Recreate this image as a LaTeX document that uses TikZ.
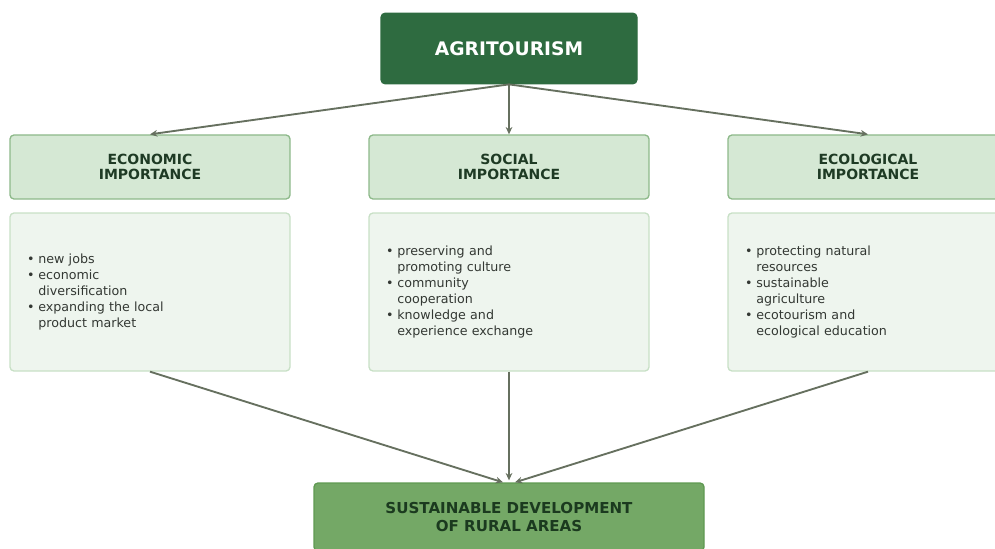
\documentclass[tikz,border=0pt]{standalone}
\usepackage{fontspec}
\setmainfont{DejaVu Sans}
\usetikzlibrary{arrows.meta}

\definecolor{topgreen}{HTML}{2E6B40}
\definecolor{headfill}{HTML}{D5E8D4}
\definecolor{headline}{HTML}{8DB98A}
\definecolor{headtext}{HTML}{1E3A24}
\definecolor{listfill}{HTML}{EEF5EE}
\definecolor{listline}{HTML}{C8E0C6}
\definecolor{listtext}{HTML}{333833}
\definecolor{goalfill}{HTML}{74A866}
\definecolor{goalline}{HTML}{5F9952}
\definecolor{goaltext}{HTML}{1B3A1F}
\definecolor{arrowgray}{HTML}{66705F}

\newcommand{\itm}{\makebox[8.5pt][l]{•}}
\newcommand{\cnt}{\hspace*{8.5pt}}

\begin{document}
\begin{tikzpicture}[x=0.75pt, y=-0.75pt,
  top/.style = {draw=topgreen, fill=topgreen, rounded corners=3pt, line width=0.8pt,
    minimum width=192pt, minimum height=53pt, text=white,
    font=\bfseries\fontsize{14}{16}\selectfont},
  head/.style = {draw=headline, fill=headfill, rounded corners=3pt, line width=1pt,
    minimum width=210pt, minimum height=48pt, text=headtext, align=center,
    font=\bfseries\fontsize{10.5}{11.5}\selectfont},
  list/.style = {draw=listline, fill=listfill, rounded corners=3pt, line width=1pt,
    minimum height=118.5pt, text width=184.5pt, inner xsep=12.75pt, align=left,
    text=listtext, font=\fontsize{9.5}{12}\selectfont},
  goal/.style = {draw=goalline, fill=goalfill, rounded corners=3pt, line width=1pt,
    minimum width=292.5pt, minimum height=51pt, text=goaltext, align=center,
    font=\bfseries\fontsize{11.3}{12.8}\selectfont},
  arr/.style = {draw=arrowgray, line width=1.4pt, -{Stealth[length=5.5pt,width=5pt]}}]
  \useasboundingbox (0,0) rectangle (995,549);

  % top
  \node[top] (agri) at (509,48.5) {AGRITOURISM};

  % three sides
  \node[head] (eco) at (150,167) {ECONOMIC\\IMPORTANCE};
  \node[head] (soc) at (509,167) {SOCIAL\\IMPORTANCE};
  \node[head] (ecol) at (868,167) {ECOLOGICAL\\IMPORTANCE};

  \node[list] (ecolist) at (150,292) {\itm new jobs\\ \itm economic\\ \cnt diversification\\ \itm expanding the local\\ \cnt product market};
  \node[list] (soclist) at (509,292) {\itm preserving and\\ \cnt promoting culture\\ \itm community\\ \cnt cooperation\\ \itm knowledge and\\ \cnt experience exchange};
  \node[list] (ecollist) at (868,292) {\itm protecting natural\\ \cnt resources\\ \itm sustainable\\ \cnt agriculture\\ \itm ecotourism and\\ \cnt ecological education};

  % bottom
  \node[goal] (rural) at (509,517) {SUSTAINABLE DEVELOPMENT\\OF RURAL AREAS};

  \draw[arr] (agri.south) -- (eco.north);
  \draw[arr] (agri.south) -- (soc.north);
  \draw[arr] (agri.south) -- (ecol.north);
  \draw[arr] (ecolist.south) -- ([xshift=-4.5pt]rural.north);
  \draw[arr] (soclist.south) -- ([yshift=1.5pt]rural.north);
  \draw[arr] (ecollist.south) -- ([xshift=4.5pt]rural.north);
\end{tikzpicture}
\end{document}
